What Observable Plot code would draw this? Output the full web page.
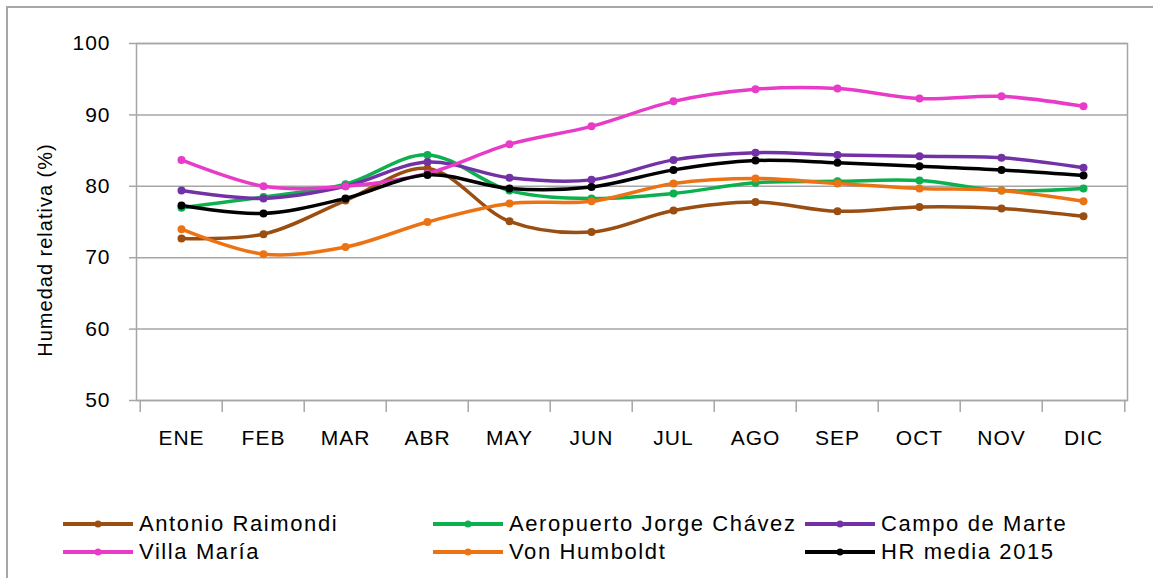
<!DOCTYPE html>
<html><head><meta charset="utf-8">
<script src="https://cdn.jsdelivr.net/npm/d3@7"></script>
<script src="https://cdn.jsdelivr.net/npm/@observablehq/plot@0.6"></script>
<style>
body{margin:0;background:#fff;font-family:"Liberation Sans",Arial,sans-serif;}
#wrap{position:relative;width:1153px;height:578px;overflow:hidden;background:#fff;}
#border{position:absolute;left:6px;top:6px;width:1200px;height:620px;border:2px solid #a6a6a6;box-sizing:border-box;}
#chart{position:absolute;left:0;top:0;}
.lg{position:absolute;display:flex;align-items:center;font-size:22px;letter-spacing:1.6px;color:#000;white-space:nowrap;}
.lg svg{margin-right:6px;}
</style></head>
<body>
<div id="wrap"><div id="border"></div><div id="chart"></div><div id="legend"></div></div>
<script>
const months = ["ENE","FEB","MAR","ABR","MAY","JUN","JUL","AGO","SEP","OCT","NOV","DIC"];
const seriesNames = ["Antonio Raimondi","Aeropuerto Jorge Chávez","Campo de Marte","Villa María","Von Humboldt","HR media 2015"];
const seriesColors = ["#9A4E12","#0DB04F","#7232A6","#E83CC8","#EC7314","#000000"];
const antonioRaimondi = [72.7,73.3,78.0,82.5,75.1,73.6,76.6,77.8,76.5,77.1,76.9,75.8];
const aeropuerto      = [77.0,78.5,80.3,84.4,79.4,78.3,79.0,80.5,80.7,80.8,79.4,79.7];
const campoDeMarte    = [79.4,78.3,80.0,83.4,81.2,80.9,83.7,84.7,84.4,84.2,84.0,82.6];
const villaMaria      = [83.7,80.0,80.0,81.8,85.9,88.4,91.9,93.6,93.7,92.3,92.6,91.2];
const vonHumboldt     = [74.0,70.5,71.5,75.0,77.6,77.9,80.4,81.1,80.4,79.7,79.4,77.9];
const hrMedia         = [77.3,76.2,78.3,81.6,79.7,79.9,82.3,83.6,83.3,82.8,82.3,81.5];
const yTicks = [50,60,70,80,90,100];
const allValues = [antonioRaimondi, aeropuerto, campoDeMarte, villaMaria, vonHumboldt, hrMedia];

const data = allValues.flatMap((vals, s) => vals.map((v, i) => ({serie: seriesNames[s], month: months[i], value: v})));

const W = 1153, H = 460, ML = 136, MR = 26, MT = 43, MB = 60;
const band = (W - ML - MR) / months.length;
const gray = "#a6a6a6";

const chart = Plot.plot({
  width: W, height: H,
  marginLeft: ML, marginRight: MR, marginTop: MT, marginBottom: MB,
  style: {fontFamily: '"Liberation Sans", Arial, sans-serif', color: "#000", background: "transparent", letterSpacing: "1px"},
  x: {type: "band", domain: months, padding: 0, label: null},
  y: {domain: [50, 100], ticks: yTicks, label: null},
  color: {domain: seriesNames, range: seriesColors},
  marks: [
    Plot.gridY(yTicks, {stroke: gray, strokeOpacity: 1, strokeWidth: 1.5}),
    Plot.frame({stroke: gray, strokeWidth: 1.5}),
    Plot.axisY(yTicks, {tickSize: 7, tickPadding: 19, stroke: gray, strokeWidth: 1.5, fontSize: 21, label: null}),
    Plot.axisX({tickSize: 12, tickFormat: () => "", stroke: gray, strokeWidth: 1.5, dx: -band / 2, label: null}),
    Plot.axisX([months[months.length - 1]], {tickSize: 12, tickFormat: () => "", stroke: gray, strokeWidth: 1.5, dx: band / 2, label: null}),
    Plot.axisX({tickSize: 0, tickPadding: 30, fontSize: 21, label: null}),
    Plot.text(["Humedad relativa (%)"], {frameAnchor: "left", textAnchor: "middle", rotate: -90, dx: -91, dy: 28, fontSize: 20, style: {letterSpacing: "0px"}}),
    Plot.line(data, {x: "month", y: "value", z: "serie", stroke: "serie", strokeWidth: 3.5, curve: "catmull-rom"}),
    Plot.dot(data, {x: "month", y: "value", fill: "serie", r: 4})
  ]
});
document.getElementById("chart").appendChild(chart);

// legend
const legendPos = [[63,524],[433,524],[805,524],[63,552],[433,552],[805,552]];
const lg = document.getElementById("legend");
seriesNames.forEach((name, i) => {
  const d = document.createElement("div");
  d.className = "lg";
  d.style.left = legendPos[i][0] + "px";
  d.style.top = (legendPos[i][1] - 13) + "px";
  d.style.height = "26px";
  d.innerHTML = `<svg width="70" height="14"><line x1="0" x2="70" y1="7" y2="7" stroke="${seriesColors[i]}" stroke-width="4"/><circle cx="35" cy="7" r="3.5" fill="${seriesColors[i]}"/></svg><span>${name}</span>`;
  lg.appendChild(d);
});
</script>
</body></html>
